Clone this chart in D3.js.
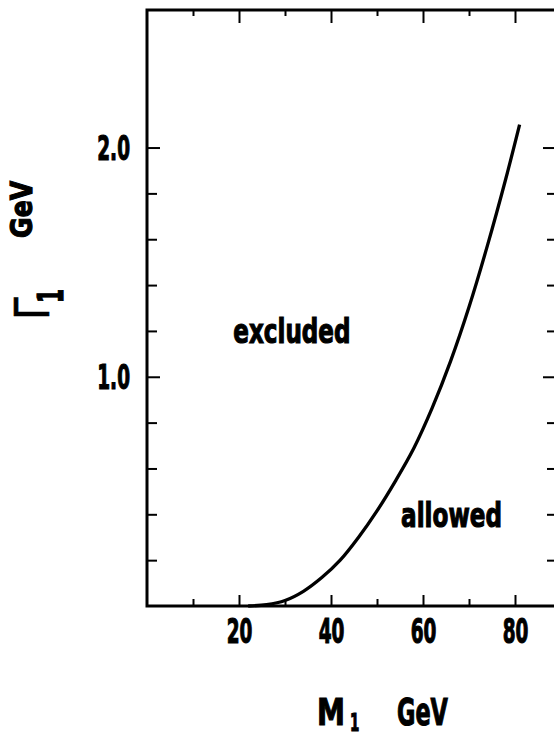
<!DOCTYPE html>
<html lang="en">
<head>
<meta charset="UTF-8">
<title>Gamma_1 vs M_1</title>
<script src="https://d3js.org/d3.v7.min.js"></script>
<style>
    html, body { margin: 0; padding: 0; background: #fff; overflow: hidden; }
    svg { display: block; }
    text { font-family: "DejaVu Sans", "Liberation Sans", sans-serif; font-weight: bold; fill: #000; stroke: #000; stroke-width: 1.2px; }
</style>
</head>
<body>
<script>
    /*------------------- data -------------------*/
    const massM1  = [22, 26, 30, 34, 38, 42, 46, 50, 54, 58, 62, 66, 70, 74, 78, 81];
    const widthG1 = [0, 0.006, 0.024, 0.064, 0.124, 0.2, 0.30, 0.415, 0.545, 0.688, 0.864, 1.068, 1.304, 1.572, 1.864, 2.10];

    const xTicks      = [10, 20, 30, 40, 50, 60, 70, 80];
    const xTickLabels = [20, 40, 60, 80];
    const yTicks      = [0.2, 0.4, 0.6, 0.8, 1.0, 1.2, 1.4, 1.6, 1.8, 2.0];
    const yTickLabels = [1.0, 2.0];

    // region names and where they sit, in data units
    const regionNames = ["excluded", "allowed"];
    const regionAt    = [[31.5, 1.147], [66.2, 0.345]];

    /*------------------- window / scales -------------------*/
    const W = 554, H = 738;
    const x = d3.scaleLinear().domain([0, 90]).range([147, 561]);
    const y = d3.scaleLinear().domain([0, 2.6]).range([606, 10]);

    const svg = d3.select("body").append("svg")
        .attr("width", W)
        .attr("height", H);

    // the old plot uses a tall narrow lettering, so every text is squeezed sideways
    function squeezed(g, px, py, str, size, sx, anchor, rot) {
        const t = g.append("g")
            .attr("transform", `translate(${px},${py})` + (rot ? ` rotate(${rot})` : "") + ` scale(${sx},1)`);
        t.append("text")
            .attr("text-anchor", anchor)
            .style("font-size", size + "px")
            .text(str);
        return t;
    }

    /*------------------- axes (ticks point inward) -------------------*/
    const isMajX = d => xTickLabels.includes(d);
    const isMajY = d => yTickLabels.includes(d);
    const numSx = 0.56;

    const gB = svg.append("g").attr("transform", `translate(0,${y(0)})`)
        .call(d3.axisBottom(x).tickValues(xTicks).tickSize(-7).tickSizeOuter(0)
            .tickFormat(d => isMajX(d) ? d : ""));
    gB.selectAll(".tick line").attr("y2", d => isMajX(d) ? -11 : -7);
    gB.selectAll(".tick text")
        .attr("y", 37).attr("dy", null)
        .attr("transform", `scale(${numSx},1)`)
        .style("font-size", "33px");

    const gT = svg.append("g").attr("transform", `translate(0,${y(2.6)})`)
        .call(d3.axisTop(x).tickValues(xTicks).tickSize(-6).tickSizeOuter(0).tickFormat(""));
    gT.selectAll(".tick line").attr("y2", d => isMajX(d) ? 13 : 6);

    const gL = svg.append("g").attr("transform", `translate(${x(0)},0)`)
        .call(d3.axisLeft(y).tickValues(yTicks).tickSize(-10).tickSizeOuter(0)
            .tickFormat(d => isMajY(d) ? d3.format(".1f")(d) : ""));
    gL.selectAll(".tick line").attr("x2", d => isMajY(d) ? 13 : 10);
    gL.selectAll(".tick text")
        .attr("x", -17 / numSx).attr("y", 12).attr("dy", null)
        .attr("transform", `scale(${numSx},1)`)
        .style("font-size", "33px");

    const gR = svg.append("g").attr("transform", `translate(${x(90)},0)`)
        .call(d3.axisRight(y).tickValues(yTicks).tickSize(-14).tickSizeOuter(0).tickFormat(""));
    gR.selectAll(".tick line").attr("x2", d => isMajY(d) ? -18 : -14);

    svg.selectAll(".domain").remove();
    svg.selectAll(".tick line").attr("stroke", "#000").attr("stroke-width", 2);

    // frame
    svg.append("rect")
        .attr("x", x(0)).attr("y", y(2.6))
        .attr("width", x(90) - x(0)).attr("height", y(0) - y(2.6))
        .attr("fill", "none").attr("stroke", "#000").attr("stroke-width", 3);

    /*------------------- the boundary curve -------------------*/
    const pts = massM1.map((m, i) => [m, widthG1[i]]);
    svg.append("path")
        .datum(pts)
        .attr("fill", "none")
        .attr("stroke", "#000")
        .attr("stroke-width", 3.3)
        .attr("d", d3.line().x(d => x(d[0])).y(d => y(d[1])).curve(d3.curveCatmullRom.alpha(0.5)));

    /*------------------- region labels -------------------*/
    regionNames.forEach((s, i) => {
        squeezed(svg, x(regionAt[i][0]), y(regionAt[i][1]), s, 33, 0.7, "middle");
    });

    /*------------------- axis titles -------------------*/
    squeezed(svg, 317, 725, "M", 38, 0.74, "start");
    squeezed(svg, 350, 731, "1", 24, numSx, "start");
    squeezed(svg, 397, 725, "GeV", 38, 0.59, "start");

    squeezed(svg, 49, 320, "\u0393", 48, 0.85, "start", -90)
        .select("text").style("font-weight", "normal").style("stroke-width", "0.6px");
    squeezed(svg, 63, 303, "1", 36, numSx, "start", -90);
    squeezed(svg, 32, 238, "GeV", 30, 0.84, "start", -90);
</script>
</body>
</html>
